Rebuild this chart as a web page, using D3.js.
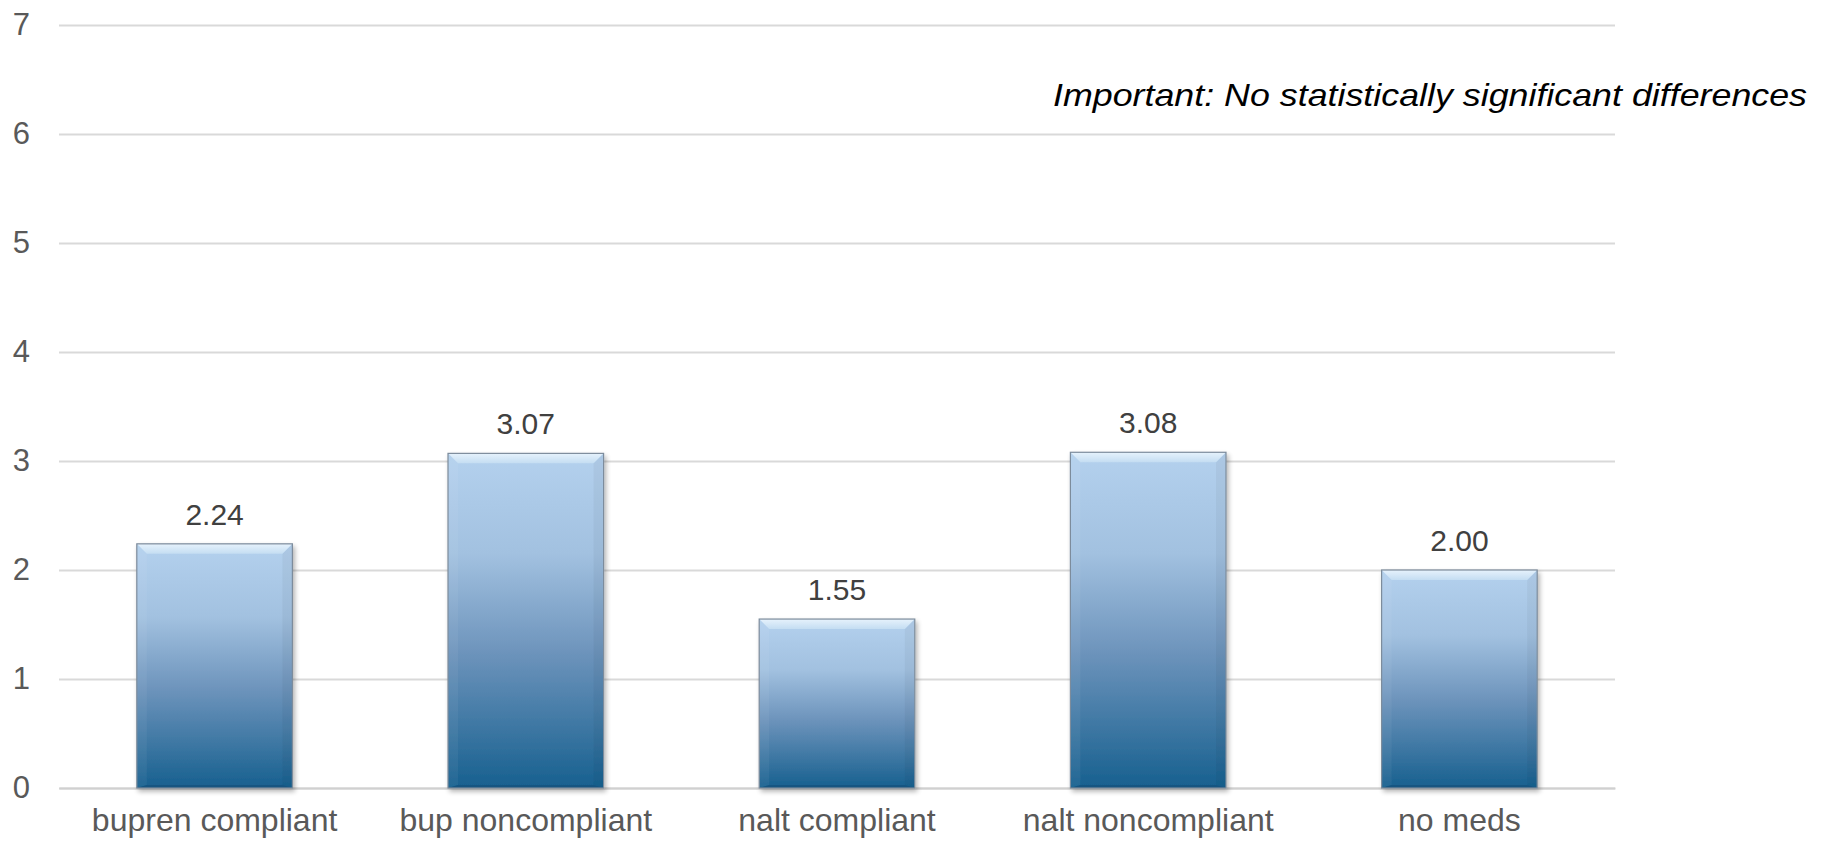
<!DOCTYPE html>
<html>
<head>
<meta charset="utf-8">
<script src="https://cdn.jsdelivr.net/npm/d3@7"></script>
<style>
  html, body { margin: 0; padding: 0; background: #ffffff; }
  svg { display: block; }
  text { font-family: "Liberation Sans", Arial, Helvetica, sans-serif; }
</style>
</head>
<body>
<svg id="chart" width="1826" height="841"></svg>
<script>
// Mean values per medication group
const categories = ["bupren compliant", "bup noncompliant", "nalt compliant", "nalt noncompliant", "no meds"];
const values = [2.24, 3.07, 1.55, 3.08, 2.00];
const yTicks = [0, 1, 2, 3, 4, 5, 6, 7];
const note = "Important: No statistically significant differences";

const W = 1826, H = 841;
const margin = { left: 59, right: 211, top: 25, bottom: 53 };
const svg = d3.select("#chart");

const x = d3.scaleBand()
  .domain(categories)
  .range([margin.left, W - margin.right])
  .paddingInner(0.5)
  .paddingOuter(0.25);

const y = d3.scaleLinear()
  .domain([0, 7])
  .range([H - margin.bottom, margin.top]);

// Gradients and shadow
const defs = svg.append("defs");
const body = defs.append("linearGradient")
  .attr("id", "barFill").attr("x1", 0).attr("y1", 0).attr("x2", 0).attr("y2", 1);
body.append("stop").attr("offset", "0").attr("stop-color", "#b4d1ee");
body.append("stop").attr("offset", "0.3").attr("stop-color", "#a2c1e0");
body.append("stop").attr("offset", "0.6").attr("stop-color", "#6c93bb");
body.append("stop").attr("offset", "1").attr("stop-color", "#17608f");

const topBevel = defs.append("linearGradient")
  .attr("id", "topBevel").attr("x1", 0).attr("y1", 0).attr("x2", 0).attr("y2", 1);
topBevel.append("stop").attr("offset", "0").attr("stop-color", "#e6f2fc");
topBevel.append("stop").attr("offset", "1").attr("stop-color", "#c4ddf2");

const shadow = defs.append("filter").attr("id", "barShadow")
  .attr("x", "-10%").attr("y", "-10%").attr("width", "125%").attr("height", "125%");
shadow.append("feGaussianBlur").attr("in", "SourceAlpha").attr("stdDeviation", 2.5).attr("result", "b");
shadow.append("feOffset").attr("in", "b").attr("dx", 2).attr("dy", 3).attr("result", "o");
shadow.append("feComponentTransfer").attr("in", "o").attr("result", "s")
  .append("feFuncA").attr("type", "linear").attr("slope", 0.3);
const merge = shadow.append("feMerge");
merge.append("feMergeNode").attr("in", "s");
merge.append("feMergeNode").attr("in", "SourceGraphic");

// Gridlines and value axis
const yAxis = svg.append("g")
  .attr("transform", `translate(${margin.left},0)`)
  .call(d3.axisLeft(y).tickValues(yTicks).tickFormat(d3.format("d"))
    .tickSize(-(W - margin.left - margin.right)).tickPadding(29));
yAxis.select(".domain").remove();
yAxis.selectAll(".tick line").attr("stroke", "#d9d9d9").attr("stroke-width", 2);
yAxis.selectAll(".tick text")
  .attr("fill", "#595959").attr("font-size", 31)
  .style("font-family", "'Liberation Sans', Arial, sans-serif");

// Category axis
const xAxis = svg.append("g")
  .attr("transform", `translate(0,${y(0)})`)
  .call(d3.axisBottom(x).tickSize(0));
xAxis.select(".domain").attr("stroke", "#d0d0d0").attr("stroke-width", 2);
xAxis.selectAll(".tick text")
  .attr("y", 43).attr("dy", 0)
  .attr("fill", "#595959").attr("font-size", 32)
  .style("font-family", "'Liberation Sans', Arial, sans-serif");

// Beveled bars
const bw = x.bandwidth();
const bev = 10;
const bars = svg.append("g").selectAll("g.bar")
  .data(categories.map((c, i) => ({ c, v: values[i] })))
  .join("g").attr("class", "bar")
  .attr("filter", "url(#barShadow)");

bars.append("rect")
  .attr("x", d => x(d.c)).attr("y", d => y(d.v))
  .attr("width", bw).attr("height", d => y(0) - y(d.v))
  .attr("fill", "url(#barFill)");

// left face
bars.append("polygon")
  .attr("points", d => {
    const x0 = x(d.c), y0 = y(d.v), y1 = y(0);
    return [[x0, y0], [x0 + bev, y0 + bev], [x0 + bev, y1 - 3], [x0, y1]].join(" ");
  })
  .attr("fill", "#ffffff").attr("fill-opacity", 0.05);
// right face
bars.append("polygon")
  .attr("points", d => {
    const x0 = x(d.c) + bw, y0 = y(d.v), y1 = y(0);
    return [[x0, y0], [x0 - bev, y0 + bev], [x0 - bev, y1 - 3], [x0, y1]].join(" ");
  })
  .attr("fill", "#000000").attr("fill-opacity", 0.04);
// bottom face
bars.append("polygon")
  .attr("points", d => {
    const x0 = x(d.c), y1 = y(0);
    return [[x0, y1], [x0 + bev, y1 - 3], [x0 + bw - bev, y1 - 3], [x0 + bw, y1]].join(" ");
  })
  .attr("fill", "#0b3f66").attr("fill-opacity", 0.35);
// top face
bars.append("polygon")
  .attr("points", d => {
    const x0 = x(d.c), y0 = y(d.v);
    return [[x0, y0], [x0 + bw, y0], [x0 + bw - bev, y0 + bev], [x0 + bev, y0 + bev]].join(" ");
  })
  .attr("fill", "url(#topBevel)");
// outline
bars.append("rect")
  .attr("x", d => x(d.c)).attr("y", d => y(d.v))
  .attr("width", bw).attr("height", d => y(0) - y(d.v))
  .attr("fill", "none").attr("stroke", "#7d8c9c").attr("stroke-width", 1.2);

// Value labels
svg.append("g").selectAll("text")
  .data(categories.map((c, i) => ({ c, v: values[i] })))
  .join("text")
  .attr("x", d => x(d.c) + bw / 2)
  .attr("y", d => y(d.v) - 19)
  .attr("text-anchor", "middle")
  .attr("fill", "#404040").attr("font-size", 30)
  .text(d => d3.format(".2f")(d.v));

// Note
svg.append("text")
  .attr("x", 1053).attr("y", 106)
  .attr("font-size", 32).attr("font-style", "italic")
  .attr("fill", "#000000")
  .attr("textLength", 754).attr("lengthAdjust", "spacingAndGlyphs")
  .text(note);
</script>
</body>
</html>
